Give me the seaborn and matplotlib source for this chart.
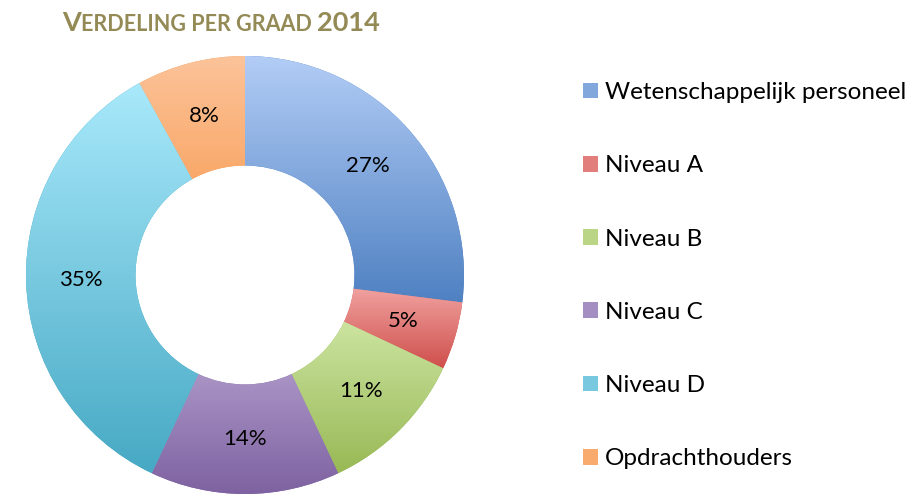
import numpy as np
import seaborn as sns
import matplotlib.pyplot as plt
from matplotlib.colors import to_rgb
from matplotlib.patches import Patch
from matplotlib.offsetbox import TextArea, HPacker, AnchoredOffsetbox

sns.set_theme(style='white')
plt.rcParams['font.family'] = ['Lato', 'DejaVu Sans']

# data
categories = ['Wetenschappelijk personeel', 'Niveau A', 'Niveau B',
              'Niveau C', 'Niveau D', 'Opdrachthouders']
shares = [27, 5, 11, 14, 35, 8]

# gradient colours per slice (top -> bottom)
top_colors = ['#b3cdf6', '#f6b0ae', '#dcf1b8', '#cdbde3', '#a9e9fb', '#fcc39a']
bottom_colors = ['#4f81c2', '#cf4f4c', '#98b955', '#7e62a1', '#47a9c4', '#f79443']
mid_colors = [sns.blend_palette([t, b], 3)[1] for t, b in zip(top_colors, bottom_colors)]

fig = plt.figure(figsize=(9.17, 4.95), dpi=100)
ax = fig.add_axes([26 / 917, 1 / 495, 438 / 917, 438 / 495])

wedges, texts, autotexts = ax.pie(
    shares, colors=bottom_colors, startangle=90, counterclock=False,
    radius=1, wedgeprops=dict(width=0.5, linewidth=0),
    autopct=lambda p: '{:.0f}%'.format(p), pctdistance=0.75,
    textprops=dict(fontsize=16, color='black'))

# vertical gradient in each slice
for w, top, bot in zip(wedges, top_colors, bottom_colors):
    verts = w.get_patch_transform().transform(w.get_path().vertices)
    x0, x1 = verts[:, 0].min(), verts[:, 0].max()
    y0, y1 = verts[:, 1].min(), verts[:, 1].max()
    t = np.linspace(0, 1, 256)[:, None, None]
    img = (1 - t) * np.array(to_rgb(top)) + t * np.array(to_rgb(bot))
    im = ax.imshow(img, extent=(x0, x1, y0, y1), origin='upper',
                   aspect='auto', interpolation='bilinear', zorder=1.5)
    im.set_clip_path(w)

for t in autotexts:
    t.set_zorder(3)

ax.set_xlim(-1, 1)
ax.set_ylim(-1, 1)
ax.set_aspect('equal')
ax.axis('off')

# legend
handles = [Patch(facecolor=c, edgecolor='none') for c in mid_colors]
fig.legend(handles, categories, loc='upper left',
           bbox_to_anchor=(583 / 917, 1 - 82 / 495), frameon=False,
           borderpad=0, borderaxespad=0, labelcolor='black',
           fontsize=17.5, handlelength=0.62, handleheight=0.62,
           handletextpad=0.3, labelspacing=2.15)

# title in small caps
title_color = '#938a55'
parts = [('V', 19.5), ('ERDELING PER GRAAD ', 15.5), ('2014', 19.5)]
boxes = [TextArea(s, textprops=dict(fontsize=fs, color=title_color,
                                    fontweight='bold', family='Lato'))
         for s, fs in parts]
title = AnchoredOffsetbox(loc='center left',
                          child=HPacker(children=boxes, align='baseline', pad=0, sep=0),
                          bbox_to_anchor=(62 / 917, 1 - 23 / 495),
                          bbox_transform=fig.transFigure,
                          frameon=False, pad=0, borderpad=0)
fig.add_artist(title)

fig.savefig('out.png', dpi=100)
